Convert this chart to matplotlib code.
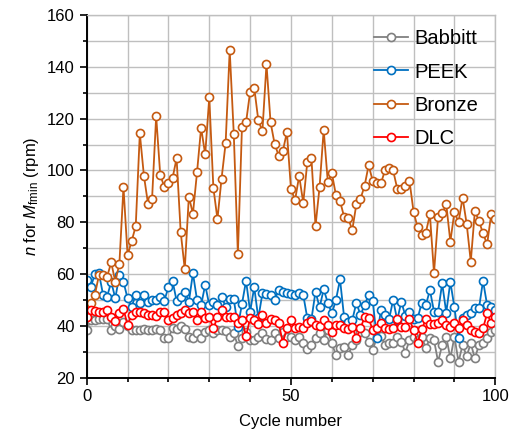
import numpy as np
import matplotlib
matplotlib.use('Agg')
import matplotlib.pyplot as plt
from matplotlib.ticker import MultipleLocator

plt.rcParams['font.family'] = ['Liberation Sans', 'DejaVu Sans']
plt.rcParams['mathtext.fontset'] = 'custom'
plt.rcParams['mathtext.rm'] = 'Liberation Sans'
plt.rcParams['mathtext.it'] = 'Liberation Sans:italic'

cycles = np.arange(0, 101)

babbitt = [38.4, 42.2, 42.2, 42.5, 42.5, 42.5, 38.4, 39.9, 38.9, 41.6,
           39.9, 38.4, 38.4, 38.4, 38.6, 38.4, 38.4, 38.6, 38.4, 35.2,
           35.2, 39.0, 38.6, 39.9, 38.6, 35.8, 35.2, 37.1, 35.2, 37.7,
           38.4, 37.1, 38.4, 38.4, 38.1, 35.8, 37.1, 32.2, 35.2, 37.7,
           34.5, 34.5, 35.8, 37.1, 34.8, 34.5, 37.1, 35.2, 37.7, 35.8,
           35.8, 34.5, 35.5, 33.2, 30.9, 32.6, 35.2, 37.1, 34.5, 38.4,
           33.2, 28.7, 31.3, 31.9, 28.7, 32.6, 34.5, 37.5, 37.1, 33.9,
           30.6, 35.5, 36.1, 32.6, 33.2, 33.2, 35.8, 33.9, 29.6, 34.5,
           35.8, 34.5, 35.8, 31.3, 35.2, 34.5, 26.1, 32.6, 35.8, 27.4,
           35.8, 26.1, 32.6, 28.3, 33.2, 27.4, 32.6, 33.2, 35.2, 37.7,
           38.4]

peek = [57.7, 55.0, 60.0, 60.3, 52.0, 51.3, 57.0, 50.6, 59.6, 57.0,
        50.6, 47.4, 52.0, 48.7, 52.0, 49.3, 50.0, 50.0, 51.3, 49.7,
        54.9, 57.4, 49.7, 51.3, 53.2, 49.3, 60.3, 50.0, 48.0, 55.8,
        48.0, 49.3, 48.0, 51.3, 47.4, 50.2, 50.2, 39.7, 48.4, 57.4,
        45.5, 54.9, 42.9, 52.5, 52.3, 51.9, 50.0, 53.8, 53.2, 52.5,
        52.3, 51.9, 52.5, 51.9, 42.9, 42.5, 53.2, 47.1, 54.1, 48.9,
        44.8, 50.0, 57.9, 43.3, 41.6, 42.2, 48.9, 44.2, 48.0, 51.9,
        49.7, 35.2, 46.1, 44.2, 42.5, 50.0, 42.2, 49.3, 43.8, 45.5,
        42.5, 42.9, 48.9, 48.0, 53.8, 45.5, 45.5, 56.4, 45.1, 57.0,
        47.1, 35.2, 42.9, 44.2, 45.1, 46.7, 46.7, 57.4, 48.0, 47.1,
        46.0]

bronze = [46.0, 49.0, 52.0, 59.6, 59.6, 59.0, 64.5, 57.0, 64.0, 93.6,
          67.3, 72.7, 78.5, 114.3, 98.0, 87.2, 89.1, 121.0, 98.2, 93.7,
          95.0, 97.0, 104.7, 76.3, 61.9, 89.9, 83.3, 99.3, 116.5, 106.2,
          128.2, 93.3, 81.2, 96.8, 110.5, 146.5, 114.0, 67.6, 116.7, 118.6,
          130.4, 132.0, 119.4, 115.2, 141.1, 118.6, 110.2, 105.7, 107.5, 114.8,
          92.7, 88.6, 97.9, 87.5, 103.4, 104.7, 78.5, 93.7, 115.7, 95.7,
          98.9, 90.5, 88.2, 82.1, 81.5, 77.0, 87.0, 89.0, 94.0, 102.0,
          96.0, 95.0, 95.0, 100.0, 101.0, 100.0, 93.0, 93.0, 94.0, 96.0,
          84.0, 78.0, 75.0, 76.0, 83.0, 60.3, 82.1, 83.4, 86.9, 72.5,
          84.0, 80.0, 89.5, 79.3, 64.8, 84.3, 80.5, 75.7, 71.5, 83.1,
          81.1]

dlc = [43.3, 46.1, 45.7, 45.5, 45.5, 46.1, 43.3, 42.0, 44.8, 46.5,
       40.3, 44.2, 45.5, 45.5, 45.1, 44.2, 44.2, 43.8, 45.5, 45.5,
       42.2, 42.9, 44.2, 44.8, 46.1, 45.1, 45.5, 42.2, 45.5, 42.9,
       43.3, 39.0, 43.3, 46.1, 43.3, 43.3, 43.5, 41.0, 42.2, 36.1,
       42.9, 42.2, 40.7, 44.2, 41.0, 42.5, 42.2, 41.0, 33.5, 39.0,
       42.2, 39.0, 39.7, 39.0, 41.0, 42.0, 40.3, 39.9, 42.2, 40.3,
       37.7, 40.3, 40.3, 39.0, 38.6, 39.7, 35.2, 39.0, 43.3, 42.9,
       38.4, 39.0, 41.0, 39.0, 38.6, 39.0, 42.5, 39.7, 39.7, 42.5,
       38.4, 33.5, 38.6, 42.5, 40.7, 40.7, 41.0, 42.2, 40.3, 39.7,
       41.2, 39.0, 42.2, 40.3, 38.4, 37.7, 37.3, 39.0, 44.8, 41.0,
       43.3]

series = [('Babbitt', babbitt, '#808080'),
          ('PEEK', peek, '#0070C0'),
          ('Bronze', bronze, '#C55A11'),
          ('DLC', dlc, '#FF0000')]

fig = plt.figure(figsize=(5.17, 4.33), dpi=100)
ax = fig.add_axes([0.1677, 0.128, 0.7903, 0.837])

for name, vals, col in series:
    ax.plot(cycles, vals, color=col, lw=1.3, marker='o', ms=5.8,
            mfc='white', mec=col, mew=1.2, label=name)

ax.set_xlim(0, 100)
ax.set_ylim(20, 160)
ax.xaxis.set_major_locator(MultipleLocator(50))
ax.xaxis.set_minor_locator(MultipleLocator(10))
ax.yaxis.set_major_locator(MultipleLocator(20))
ax.yaxis.set_minor_locator(MultipleLocator(10))
ax.grid(True, which='both', color='#bfbfbf', lw=1.0, zorder=0)
ax.set_axisbelow(True)

ax.tick_params(which='both', direction='out', labelsize=12, width=1.2, color='black')
ax.tick_params(which='major', length=5)
ax.tick_params(which='minor', length=3)
for s in ['left', 'bottom']:
    ax.spines[s].set_linewidth(1.4)
    ax.spines[s].set_color('black')
for s in ['top', 'right']:
    ax.spines[s].set_color('#bfbfbf')
    ax.spines[s].set_linewidth(1.0)

ax.set_xlabel('Cycle number', fontsize=12, labelpad=7)
ax.set_ylabel(r'$n$ for $M_{\rm fmin}$ (rpm)', fontsize=12, labelpad=4)

ax.legend(loc='upper left', bbox_to_anchor=(0.7234, 0.932), bbox_transform=fig.transFigure,
          frameon=False, fontsize=14.5, handlelength=1.7, handletextpad=0.3,
          labelspacing=0.7, borderaxespad=0, borderpad=0)

fig.savefig('out.png', dpi=100)
